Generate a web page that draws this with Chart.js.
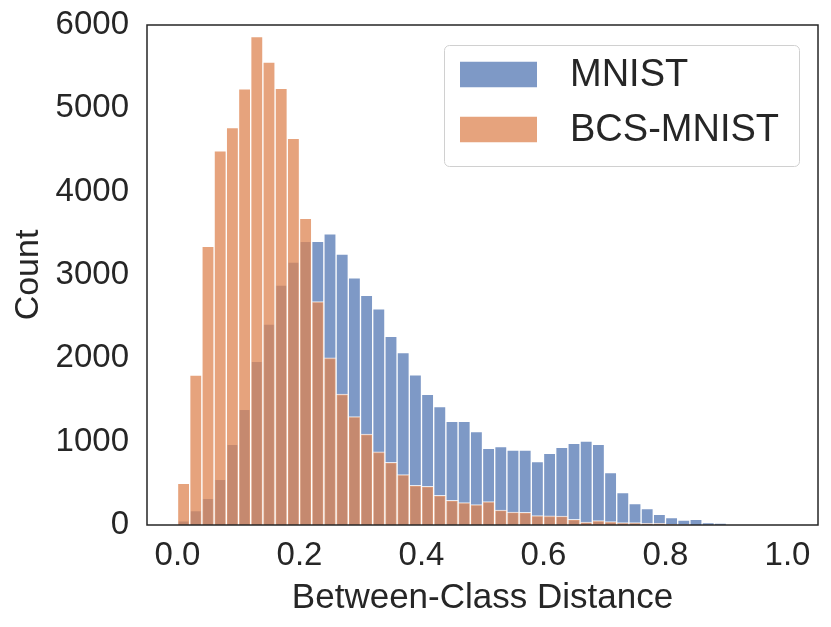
<!DOCTYPE html>
<html>
<head>
<meta charset="utf-8">
<script src="https://cdn.jsdelivr.net/npm/chart.js@4.4.1/dist/chart.umd.min.js"></script>
<style>
  html, body { margin: 0; padding: 0; background: #fff; }
  #wrap { width: 831px; height: 627px; position: relative; }
</style>
</head>
<body>
<div id="wrap"><canvas id="hist"></canvas></div>
<script>
// Bin centres (bin width 0.02, 0..1)
const binCenters = [
  0.01, 0.03, 0.05, 0.07, 0.09, 0.11, 0.13, 0.15, 0.17, 0.19,
  0.21, 0.23, 0.25, 0.27, 0.29, 0.31, 0.33, 0.35, 0.37, 0.39,
  0.41, 0.43, 0.45, 0.47, 0.49, 0.51, 0.53, 0.55, 0.57, 0.59,
  0.61, 0.63, 0.65, 0.67, 0.69, 0.71, 0.73, 0.75, 0.77, 0.79,
  0.81, 0.83, 0.85, 0.87, 0.89, 0.91, 0.93, 0.95, 0.97, 0.99
];

const mnistCounts = [
  50, 172, 320, 549, 968, 1389, 1965, 2410, 2880, 3155,
  3405, 3405, 3493, 3250, 2967, 2757, 2593, 2265, 2068, 1801,
  1568, 1420, 1244, 1244, 1120, 920, 940, 900, 900, 762,
  861, 932, 980, 1008, 968, 628, 388, 256, 196, 128,
  88, 60, 68, 28, 24, 0, 0, 0, 0, 0
];

const bcsCounts = [
  500, 1800, 3345, 4490, 4770, 5235, 5860, 5555, 5240, 4640,
  3680, 2680, 2005, 1570, 1300, 1090, 877, 752, 604, 476,
  464, 356, 296, 268, 245, 280, 180, 156, 152, 113,
  109, 108, 68, 36, 52, 40, 28, 28, 20, 20,
  8, 5, 0, 0, 0, 0, 0, 0, 0, 0
];

const xTickValues = [0, 0.2, 0.4, 0.6, 0.8, 1.0];
const yTickValues = [0, 1000, 2000, 3000, 4000, 5000, 6000];

const FONT = '"Liberation Sans", Arial, Helvetica, sans-serif';
const INK = '#262626';

// skip empty bins so no zero-height slivers are drawn
function toPoints(counts) {
  const pts = [];
  counts.forEach((c, i) => {
    if (c > 0) pts.push({ x: binCenters[i], y: c });
  });
  return pts;
}

// Box around the plot area, like matplotlib spines
const framePlugin = {
  id: 'frame',
  afterDatasetsDraw(chart) {
    const { ctx, chartArea: a } = chart;
    ctx.save();
    ctx.strokeStyle = INK;
    ctx.lineWidth = 1.5;
    ctx.strokeRect(a.left, a.top, a.right - a.left, a.bottom - a.top);
    ctx.restore();
  }
};

// Legend drawn inside the axes with a rounded frame
const legendBoxPlugin = {
  id: 'legendBox',
  afterDraw(chart) {
    const ctx = chart.ctx;
    const box = { x: 444, y: 45, w: 355, h: 121, r: 5 };
    ctx.save();
    ctx.beginPath();
    ctx.roundRect(box.x + 0.5, box.y + 0.5, box.w, box.h, box.r);
    ctx.fillStyle = 'rgba(255,255,255,0.8)';
    ctx.fill();
    ctx.strokeStyle = '#d0d0d0';
    ctx.lineWidth = 1;
    ctx.stroke();

    const rows = [74.5, 129.5];
    chart.data.datasets.forEach((ds, i) => {
      const cy = rows[i];
      ctx.fillStyle = ds.backgroundColor;
      ctx.fillRect(460, cy - 12.75, 77, 25.5);
      ctx.font = '38px ' + FONT;
      ctx.fillStyle = INK;
      ctx.textBaseline = 'middle';
      ctx.textAlign = 'left';
      ctx.fillText(ds.label, 570, cy + 1);
    });
    ctx.restore();
  }
};

const ctx = document.getElementById('hist');

new Chart(ctx, {
  type: 'bar',
  data: {
    datasets: [
      {
        label: 'MNIST',
        data: toPoints(mnistCounts),
        backgroundColor: 'rgba(76, 114, 176, 0.72)',
        borderColor: 'rgba(255, 255, 255, 0.8)',
        borderWidth: 1,
        order: 2,
      },
      {
        label: 'BCS-MNIST',
        data: toPoints(bcsCounts),
        backgroundColor: 'rgba(221, 132, 82, 0.75)',
        borderColor: 'rgba(255, 255, 255, 0.8)',
        borderWidth: 1,
        order: 1,
      },
    ],
  },
  options: {
    responsive: true,
    maintainAspectRatio: false,
    animation: false,
    devicePixelRatio: 1,
    layout: { padding: { top: 25, right: 13, left: 0, bottom: 0 } },
    datasets: {
      bar: {
        grouped: false,
        barPercentage: 1.0,
        categoryPercentage: 1.0,
      },
    },
    plugins: {
      legend: { display: false },
      tooltip: { enabled: false },
    },
    scales: {
      x: {
        type: 'linear',
        min: -0.05,
        max: 1.05,
        offset: false,
        grid: { display: false, drawTicks: false },
        border: { display: false },
        afterBuildTicks: (scale) => {
          scale.ticks = xTickValues.map(v => ({ value: v }));
        },
        afterFit: (scale) => {
          scale.height = 102;
          scale.paddingLeft = 0;
          scale.paddingRight = 0;
        },
        ticks: {
          autoSkip: false,
          maxRotation: 0,
          padding: 11,
          color: INK,
          font: { family: FONT, size: 33 },
          callback: (v) => Number(v).toFixed(1),
        },
        title: {
          display: true,
          text: 'Between-Class Distance',
          color: INK,
          font: { family: FONT, size: 35 },
          padding: { top: 0, bottom: 8 },
        },
      },
      y: {
        min: 0,
        max: 6000,
        grid: { display: false, drawTicks: false },
        border: { display: false },
        afterBuildTicks: (scale) => {
          scale.ticks = yTickValues.map(v => ({ value: v }));
        },
        afterFit: (scale) => {
          scale.width = 147;
          scale.paddingTop = 0;
          scale.paddingBottom = 0;
        },
        ticks: {
          padding: 18,
          color: INK,
          font: { family: FONT, size: 33 },
          callback: (v) => String(v),
        },
        title: {
          display: true,
          text: 'Count',
          color: INK,
          font: { family: FONT, size: 34 },
          padding: { top: 8, bottom: 0 },
        },
      },
    },
  },
  plugins: [framePlugin, legendBoxPlugin],
});
</script>
</body>
</html>
